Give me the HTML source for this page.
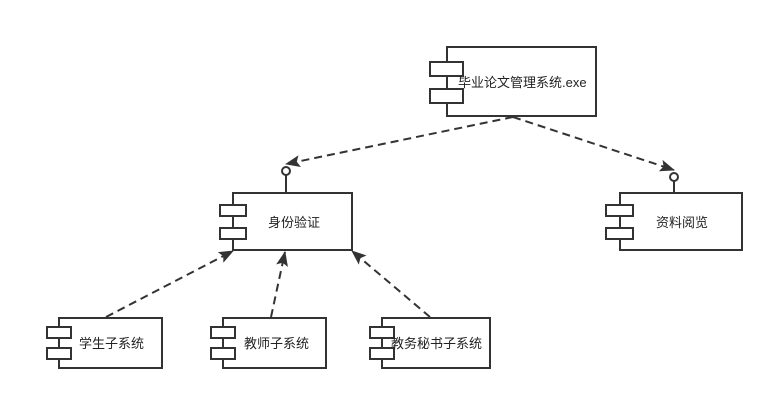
<!DOCTYPE html>
<html><head><meta charset="utf-8"><style>
html,body{margin:0;padding:0;background:#fff;}
svg{display:block}
text{font-family:"Liberation Sans","Noto Sans CJK SC",sans-serif;font-size:13px;fill:#222}
</style></head><body>
<svg width="774" height="401" viewBox="0 0 774 401" xmlns="http://www.w3.org/2000/svg">
<defs>
<marker id="a" markerWidth="15" markerHeight="12" refX="14" refY="6" orient="auto" markerUnits="userSpaceOnUse">
<path d="M0,0 L15,6 L0,12 L3,6 Z" fill="#333"/></marker>
</defs>
<g stroke="#333" stroke-width="2" fill="#fff">
<rect x="447" y="47" width="149" height="69"/>
<rect x="430" y="62" width="33" height="14"/><rect x="430" y="89" width="33" height="14"/>
<rect x="233" y="193" width="119" height="57"/>
<rect x="220" y="205" width="26" height="11"/><rect x="220" y="228" width="26" height="11"/>
<rect x="620" y="193" width="122" height="57"/>
<rect x="606" y="205" width="27" height="11"/><rect x="606" y="228" width="27" height="11"/>
<rect x="59" y="318" width="103" height="50"/>
<rect x="47" y="327" width="24" height="11"/><rect x="47" y="348" width="24" height="11"/>
<rect x="223" y="318" width="103" height="50"/>
<rect x="211" y="327" width="24" height="11"/><rect x="211" y="348" width="24" height="11"/>
<rect x="382" y="318" width="108" height="50"/>
<rect x="370" y="327" width="24" height="11"/><rect x="370" y="348" width="24" height="11"/>
<line x1="286" y1="175" x2="286" y2="193"/><circle cx="286" cy="171" r="4"/>
<line x1="674" y1="181" x2="674" y2="193"/><circle cx="674" cy="177" r="4"/>
</g>
<g stroke="#333" stroke-width="2" fill="none" stroke-dasharray="8,5">
<line x1="513" y1="117" x2="286" y2="164" marker-end="url(#a)"/>
<line x1="513" y1="117" x2="674" y2="170" marker-end="url(#a)"/>
<line x1="106" y1="317" x2="233" y2="251" marker-end="url(#a)"/>
<line x1="271" y1="317" x2="285" y2="252" marker-end="url(#a)"/>
<line x1="430" y1="317" x2="352" y2="251" marker-end="url(#a)"/>
</g>
<text x="458" y="87">毕业论文管理系统.exe</text>
<text x="268" y="227">身份验证</text>
<text x="656" y="227">资料阅览</text>
<text x="79" y="348">学生子系统</text>
<text x="244" y="348">教师子系统</text>
<text x="391" y="348">教务秘书子系统</text>
</svg>
</body></html>
